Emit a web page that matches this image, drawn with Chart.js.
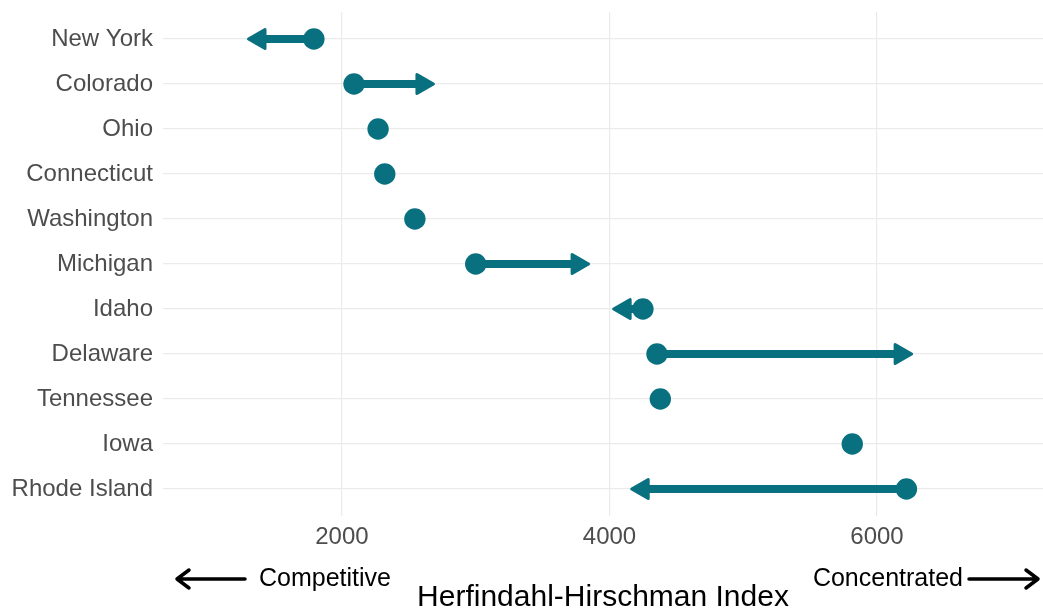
<!DOCTYPE html>
<html>
<head>
<meta charset="utf-8">
<script src="https://cdn.jsdelivr.net/npm/chart.js@4.4.1/dist/chart.umd.min.js"></script>
<style>
  html, body { margin: 0; padding: 0; background: #fff; }
  #wrap { width: 1043px; height: 613px; }
</style>
</head>
<body>
<div id="wrap"><canvas id="chartHHI"></canvas></div>
<script>
(function () {
    'use strict';

    /* ── Data ─────────────────────────────────────────────── */
    const states = ['New York', 'Colorado', 'Ohio', 'Connecticut', 'Washington', 'Michigan',
                    'Idaho', 'Delaware', 'Tennessee', 'Iowa', 'Rhode Island'];
    const hhiStart = [1790, 2090, 2270, 2320, 2545, 3000, 4250, 4355, 4380, 5815, 6220];
    // null = no change shown
    const hhiEnd = [1290, 2695, null, null, null, 3855, 4020, 6270, null, null, 4155];
    const xTicks = [2000, 4000, 6000];

    const TEAL = '#08707f';
    const GRID = '#ebebeb';
    const TEXT_SEC = '#4d4d4d';
    const FONT = "Arial, 'Liberation Sans', sans-serif";

    /* ── Arrow + axis annotation plugin ───────────────────── */
    const arrowPlugin = {
        id: 'hhiArrows',
        beforeDatasetsDraw(chart) {
            const { ctx, scales: { x, y } } = chart;
            ctx.save();
            ctx.strokeStyle = TEAL;
            ctx.fillStyle = TEAL;
            ctx.lineJoin = 'round';
            hhiEnd.forEach((end, i) => {
                if (end === null) return;
                const x0 = x.getPixelForValue(hhiStart[i]);
                const x1 = x.getPixelForValue(end);
                const py = y.getPixelForValue(i);
                const dir = Math.sign(x1 - x0);
                const head = 19;
                ctx.lineWidth = 8;
                ctx.beginPath();
                ctx.moveTo(x0, py);
                ctx.lineTo(x1 - dir * head * 0.8, py);
                ctx.stroke();
                ctx.lineWidth = 3;
                ctx.beginPath();
                ctx.moveTo(x1 - dir * 1.5, py);
                ctx.lineTo(x1 - dir * (head - 1), py - 9.5);
                ctx.lineTo(x1 - dir * (head - 1), py + 9.5);
                ctx.closePath();
                ctx.fill();
                ctx.stroke();
            });
            ctx.restore();
        },
        afterDraw(chart) {
            const { ctx } = chart;
            const yy = 579;
            ctx.save();
            ctx.fillStyle = '#000';
            ctx.strokeStyle = '#000';
            ctx.font = '25px ' + FONT;
            ctx.textBaseline = 'middle';
            ctx.textAlign = 'left';
            ctx.fillText('Competitive', 259, yy);
            ctx.textAlign = 'right';
            ctx.fillText('Concentrated', 963, yy);

            ctx.lineWidth = 3.5;
            ctx.lineCap = 'round';
            ctx.lineJoin = 'round';
            // left arrow
            ctx.beginPath();
            ctx.moveTo(245, yy);
            ctx.lineTo(177, yy);
            ctx.moveTo(189, yy - 9);
            ctx.lineTo(177, yy);
            ctx.lineTo(189, yy + 9);
            ctx.stroke();
            // right arrow
            ctx.beginPath();
            ctx.moveTo(969, yy);
            ctx.lineTo(1038, yy);
            ctx.moveTo(1026, yy - 9);
            ctx.lineTo(1038, yy);
            ctx.lineTo(1026, yy + 9);
            ctx.stroke();
            ctx.restore();
        }
    };

    /* ── Chart ────────────────────────────────────────────── */
    const ctx = document.getElementById('chartHHI').getContext('2d');
    new Chart(ctx, {
        type: 'scatter',
        data: {
            datasets: [{
                label: 'HHI',
                data: hhiStart.map((v, i) => ({ x: v, y: i })),
                backgroundColor: TEAL,
                borderColor: TEAL,
                pointRadius: 10.7,
                pointHoverRadius: 10.7,
                borderWidth: 0,
            }]
        },
        options: {
            responsive: true,
            maintainAspectRatio: false,
            animation: false,
            layout: { autoPadding: false, padding: { top: 12, right: 0, bottom: 0, left: 0 } },
            plugins: {
                legend: { display: false },
                tooltip: { enabled: false }
            },
            scales: {
                x: {
                    type: 'linear',
                    min: 662,
                    max: 7241,
                    afterBuildTicks: (s) => { s.ticks = xTicks.map(v => ({ value: v })); },
                    afterFit: (s) => { s.height = 97; s.paddingLeft = 0; s.paddingRight = 0; },
                    border: { display: false },
                    grid: { color: GRID, lineWidth: 1.2, drawTicks: false },
                    ticks: {
                        color: TEXT_SEC,
                        padding: 7,
                        font: { family: FONT, size: 24 },
                        callback: (v) => String(v)
                    },
                    title: {
                        display: true,
                        text: 'Herfindahl-Hirschman Index',
                        color: '#000',
                        font: { family: FONT, size: 30 },
                        padding: { top: 0, bottom: -3 }
                    }
                },
                y: {
                    type: 'linear',
                    reverse: true,
                    min: -0.6,
                    max: 10.6,
                    afterBuildTicks: (s) => { s.ticks = states.map((_, i) => ({ value: i })); },
                    afterFit: (s) => { s.width = 163; s.paddingTop = 0; s.paddingBottom = 0; },
                    border: { display: false },
                    grid: { color: GRID, lineWidth: 1.2, drawTicks: false },
                    ticks: {
                        color: TEXT_SEC,
                        padding: 10,
                        font: { family: FONT, size: 24 },
                        callback: (v) => states[v]
                    }
                }
            }
        },
        plugins: [arrowPlugin]
    });
})();
</script>
</body>
</html>
